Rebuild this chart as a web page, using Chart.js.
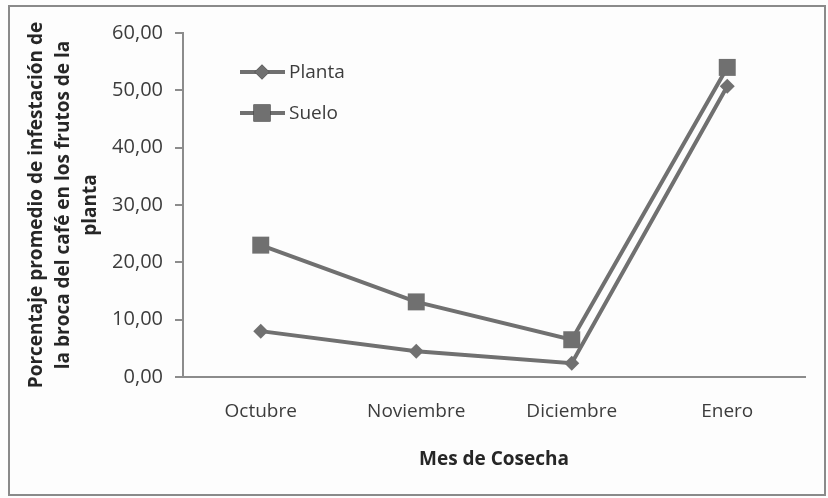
<!DOCTYPE html>
<html>
<head>
<meta charset="utf-8">
<script src="https://cdn.jsdelivr.net/npm/chart.js@4"></script>
<style>
  html, body { margin: 0; padding: 0; background: #ffffff; }
  #wrap { position: relative; width: 828px; height: 498px; }
</style>
</head>
<body>
<div id="wrap"><canvas id="c" width="828" height="498"></canvas></div>
<script>
const categories = ['Octubre', 'Noviembre', 'Diciembre', 'Enero'];
const planta = [8.0, 4.5, 2.4, 50.7];
const suelo = [23.0, 13.1, 6.5, 54.0];
const seriesNames = ['Planta', 'Suelo'];
const yTitleLines = ['Porcentaje promedio de infestación de', 'la broca del café en los frutos de la', 'planta'];
const xTitle = 'Mes de Cosecha';

const LINE = '#707070';
const TEXT = '#3c3c3c';
const FONT = "'Open Sans', 'DejaVu Sans', sans-serif";

const frame = {
  id: 'frame',
  beforeDraw(chart) {
    const ctx = chart.ctx;
    ctx.save();
    ctx.fillStyle = '#fdfdfd';
    ctx.fillRect(0, 0, chart.width, chart.height);
    ctx.strokeStyle = '#8a8a8a';
    ctx.lineWidth = 2;
    ctx.strokeRect(9, 6, 816, 489);
    ctx.restore();
  }
};

const innerLegend = {
  id: 'innerLegend',
  afterDraw(chart) {
    const ctx = chart.ctx;
    const rows = [72, 113];
    chart.data.datasets.forEach((ds, i) => {
      const y = rows[i];
      ctx.save();
      ctx.strokeStyle = ds.borderColor;
      ctx.lineWidth = ds.borderWidth;
      ctx.beginPath();
      ctx.moveTo(240, y);
      ctx.lineTo(285, y);
      ctx.stroke();
      Chart.helpers.drawPoint(ctx, {pointStyle: ds.pointStyle, rotation: 0, borderWidth: 0, radius: ds.pointRadius}, 262, y);
      ctx.fillStyle = ds.pointBackgroundColor;
      ctx.fill();
      ctx.fillStyle = TEXT;
      ctx.font = "19px " + FONT;
      ctx.textBaseline = 'middle';
      ctx.textAlign = 'left';
      ctx.fillText(ds.label, 289, y + 1);
      ctx.restore();
    });
  }
};

new Chart(document.getElementById('c'), {
  type: 'line',
  data: {
    labels: categories,
    datasets: [
      {
        label: seriesNames[0], data: planta,
        borderColor: LINE, borderWidth: 4,
        pointStyle: 'rectRot', pointRadius: 7.5,
        pointBackgroundColor: LINE, pointBorderColor: LINE, pointBorderWidth: 0,
        tension: 0
      },
      {
        label: seriesNames[1], data: suelo,
        borderColor: LINE, borderWidth: 4,
        pointStyle: 'rect', pointRadius: 12,
        pointBackgroundColor: LINE, pointBorderColor: LINE, pointBorderWidth: 0,
        tension: 0
      }
    ]
  },
  options: {
    responsive: false,
    animation: false,
    devicePixelRatio: 1,
    layout: { padding: { top: 33, right: 23, left: 0, bottom: 0 } },
    plugins: { legend: { display: false }, tooltip: { enabled: false } },
    scales: {
      x: {
        offset: true,
        grid: { display: true, drawOnChartArea: false, drawTicks: false },
        border: { display: true, color: '#8c8c8c', width: 2 },
        ticks: { color: TEXT, font: { family: FONT, size: 19 }, padding: 23, maxRotation: 0 },
        title: { display: true, text: xTitle, color: '#262626', font: { family: FONT, size: 19, weight: 'bold' }, padding: { top: 4, bottom: 27 } },
        afterFit(scale) { scale.height = 498 - 377 - 0; }
      },
      y: {
        min: 0, max: 60,
        ticks: { stepSize: 10, color: TEXT, font: { family: FONT, size: 20 }, padding: 12,
          callback: v => v.toFixed(2).replace('.', ',') },
        grid: { drawOnChartArea: false, drawTicks: true, tickLength: 8, color: '#8c8c8c', lineWidth: 2 },
        border: { display: true, color: '#8c8c8c', width: 2 },
        title: { display: true, text: yTitleLines, color: '#262626', font: { family: FONT, size: 19, weight: 'bold', lineHeight: 1.42 }, padding: { top: 23, bottom: 0 } },
        afterFit(scale) { scale.width = 183; }
      }
    }
  },
  plugins: [frame, innerLegend]
});
</script>
</body>
</html>
